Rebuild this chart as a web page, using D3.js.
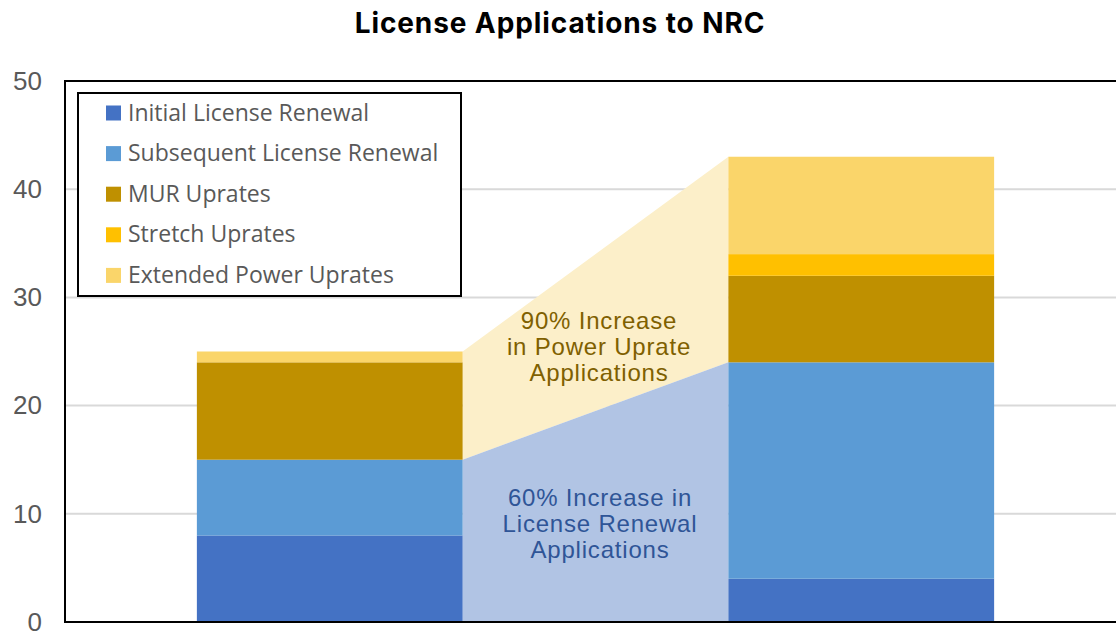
<!DOCTYPE html>
<html>
<head>
<meta charset="utf-8">
<script src="https://cdn.jsdelivr.net/npm/d3@7"></script>
<style>
  body { margin: 0; background: #fff; }
  svg { display: block; }
</style>
</head>
<body>
<div id="chart"></div>
<script>
// --- data ---
const categories = ["Before", "After"];
const seriesNames = ["Initial License Renewal", "Subsequent License Renewal", "MUR Uprates", "Stretch Uprates", "Extended Power Uprates"];
const seriesColors = ["#4472C4", "#5B9BD5", "#BF9000", "#FFC000", "#FAD56A"];
const initialRenewal = [8, 4];
const subsequentRenewal = [7, 20];
const murUprates = [9, 8];
const stretchUprates = [0, 2];
const extendedUprates = [1, 9];
const yTicks = [0, 10, 20, 30, 40, 50];

const width = 1116, height = 633;
const margin = { top: 81, left: 65, bottom: 622 };

const svg = d3.select("#chart").append("svg")
  .attr("width", width)
  .attr("height", height);

const x = d3.scaleBand().domain(categories).range([64, 1127]).paddingInner(0.5).paddingOuter(0.25);
const y = d3.scaleLinear().domain([0, 50]).range([margin.bottom, margin.top]);

const rows = categories.map((c, i) => ({
  cat: c,
  [seriesNames[0]]: initialRenewal[i],
  [seriesNames[1]]: subsequentRenewal[i],
  [seriesNames[2]]: murUprates[i],
  [seriesNames[3]]: stretchUprates[i],
  [seriesNames[4]]: extendedUprates[i]
}));
const stacked = d3.stack().keys(seriesNames)(rows);

// gridlines
svg.append("g")
  .selectAll("line")
  .data(yTicks.filter(t => t > 0 && t < 50))
  .join("line")
  .attr("x1", margin.left).attr("x2", width)
  .attr("y1", d => y(d)).attr("y2", d => y(d))
  .attr("stroke", "#D9D9D9").attr("stroke-width", 2);

// connector bands between the two bars
const x1 = x(categories[0]) + x.bandwidth();
const x2 = x(categories[1]);
const renewTop = stacked[1];
const total = stacked[4];
const yellowPts = [[x1, y(total[0][1])], [x2, y(total[1][1])], [x2, y(renewTop[1][1])], [x1, y(renewTop[0][1])]];
const bluePts = [[x1, y(renewTop[0][1])], [x2, y(renewTop[1][1])], [x2, y(0)], [x1, y(0)]];
svg.append("polygon").attr("points", yellowPts.map(p => p.join(",")).join(" ")).attr("fill", "#FCEFC9");
svg.append("polygon").attr("points", bluePts.map(p => p.join(",")).join(" ")).attr("fill", "#B1C4E4");

// stacked bars
svg.append("g")
  .selectAll("g")
  .data(stacked)
  .join("g")
  .attr("fill", (d, i) => seriesColors[i])
  .selectAll("rect")
  .data(d => d)
  .join("rect")
  .attr("x", d => x(d.data.cat))
  .attr("width", x.bandwidth())
  .attr("y", d => y(d[1]))
  .attr("height", d => y(d[0]) - y(d[1]));

// plot frame
svg.append("path")
  .attr("d", `M${width + 2},${margin.top}H${margin.left}V${margin.bottom}H${width + 2}`)
  .attr("fill", "none").attr("stroke", "#000").attr("stroke-width", 2);

// y-axis labels
const yAxis = svg.append("g")
  .attr("transform", `translate(${margin.left - 23},0)`)
  .call(d3.axisLeft(y).tickValues(yTicks).tickSize(0).tickPadding(0));
yAxis.select(".domain").remove();
yAxis.selectAll("text")
  .attr("font-family", "'Liberation Sans', Arial, sans-serif")
  .attr("font-size", 26)
  .attr("fill", "#595959");

// title
svg.append("text")
  .attr("x", 560).attr("y", 33)
  .attr("text-anchor", "middle")
  .attr("font-family", "Inter, sans-serif")
  .attr("font-weight", 700)
  .attr("font-size", 28)
  .attr("letter-spacing", 0.9)
  .attr("fill", "#000")
  .text("License Applications to NRC");

// annotations
const noteFont = "'Liberation Sans', Arial, sans-serif";
const powerLines = ["90% Increase", "in Power Uprate", "Applications"];
const renewLines = ["60% Increase in", "License Renewal", "Applications"];
svg.append("text")
  .attr("text-anchor", "middle").attr("font-family", noteFont).attr("font-size", 24)
  .attr("letter-spacing", 0.8).attr("fill", "#7F6000")
  .selectAll("tspan").data(powerLines).join("tspan")
  .attr("x", 599).attr("y", (d, i) => 329 + i * 26).text(d => d);
svg.append("text")
  .attr("text-anchor", "middle").attr("font-family", noteFont).attr("font-size", 24)
  .attr("letter-spacing", 0.8).attr("fill", "#2F5597")
  .selectAll("tspan").data(renewLines).join("tspan")
  .attr("x", 600).attr("y", (d, i) => 506 + i * 26).text(d => d);

// legend
const legend = svg.append("g");
legend.append("rect")
  .attr("x", 78).attr("y", 93).attr("width", 383).attr("height", 203)
  .attr("fill", "#fff").attr("stroke", "#000").attr("stroke-width", 2);
const item = legend.selectAll("g.item")
  .data(seriesNames)
  .join("g")
  .attr("class", "item")
  .attr("transform", (d, i) => `translate(106,${112.5 + i * 40.6})`);
item.append("rect")
  .attr("x", 0).attr("y", -7).attr("width", 15).attr("height", 15)
  .attr("fill", (d, i) => seriesColors[i]);
item.append("text")
  .attr("x", 22).attr("y", 0).attr("dy", "0.35em")
  .attr("font-family", "'Open Sans', sans-serif")
  .attr("font-size", 23)
  .attr("fill", "#595959")
  .text(d => d);
</script>
</body>
</html>
